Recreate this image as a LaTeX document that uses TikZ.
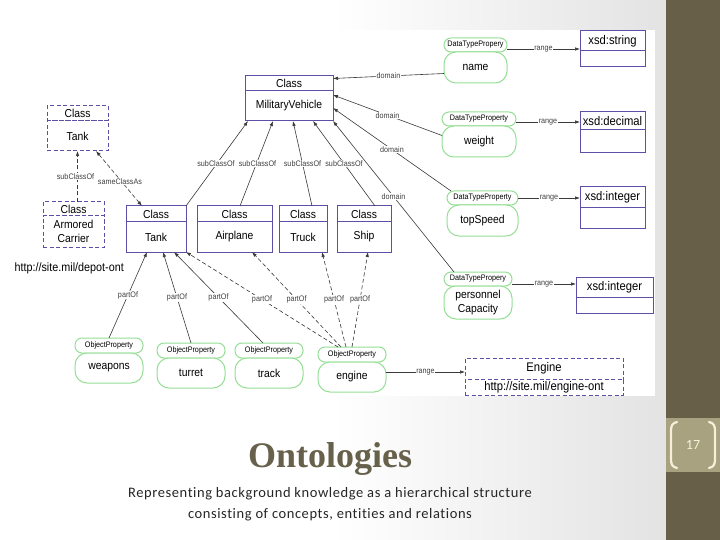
\documentclass[tikz,border=0pt]{standalone}
\usepackage{fontspec}
\usetikzlibrary{positioning,arrows.meta}
\newfontfamily\diagfont[FakeStretch=0.9]{Liberation Sans}
\newfontfamily\slidefont[Ligatures=NoCommon]{Carlito}
\newfontfamily\spacedfont[Ligatures=NoCommon, LetterSpace=4]{Carlito}
\newfontfamily\headfont{Liberation Serif}
\definecolor{classblue}{HTML}{5B50A5}
\definecolor{propgreen}{HTML}{96DE96}
\definecolor{linegray}{HTML}{3A3A3A}
\definecolor{labelgray}{HTML}{404040}
\definecolor{sidebar}{HTML}{675F47}
\definecolor{sidebox}{HTML}{A8A281}
\definecolor{cream}{HTML}{F4F1D8}
\definecolor{titlecol}{HTML}{67614C}
\definecolor{subgray}{HTML}{262626}
\begin{document}
\begin{tikzpicture}[x=1pt,y=-1pt,
        >={Latex[length=5pt,width=3.5pt]},
        classhead/.style={draw=classblue, line width=1pt, fill=white, inner sep=0pt, outer sep=0pt,
            minimum height=15pt, font=\diagfont\fontsize{11.5}{12}\selectfont},
        classbody/.style={classhead, minimum height=30pt, align=center, font=\diagfont\fontsize{11.5}{14}\selectfont},
        farclass/.style={dash pattern=on 4pt off 2.5pt},
        xsdfont/.style={font=\diagfont\fontsize{12.5}{13}\selectfont},
        prophead/.style={draw=propgreen, line width=1pt, fill=white, rounded corners=7pt, inner sep=0pt, outer sep=0pt,
            minimum height=14pt, font=\diagfont\fontsize{8}{9}\selectfont},
        propbody/.style={prophead, rounded corners=12pt, minimum height=30pt, align=center,
            font=\diagfont\fontsize{11.5}{14}\selectfont},
        link/.style={draw=linegray, line width=0.6pt, ->},
        dashlink/.style={link, dash pattern=on 4pt off 2.5pt},
        lbl/.style={fill=white, inner sep=0.6pt, text=labelgray, font=\diagfont\fontsize{8}{9}\selectfont}]
        \useasboundingbox (0,0) rectangle (720,540);

        % Slide background
        \shade[left color=white, right color=black!11, middle color=white] (0,0) rectangle (666,540);
        \fill[white] (0,30) rectangle (655,396);
        \fill[sidebar] (666,0) rectangle (720,540);
        \fill[sidebox] (666,418) rectangle (720,472);
        \draw[cream, line width=2.2pt, line cap=round] (677,422) .. controls (672,423) and (671,426) .. (671,431)
            -- (671,459) .. controls (671,464) and (672,467) .. (677,468);
        \draw[cream, line width=2.2pt, line cap=round] (709,422) .. controls (714,423) and (715,426) .. (715,431)
            -- (715,459) .. controls (715,464) and (714,467) .. (709,468);
        \node[text=cream, font=\slidefont\fontsize{14}{14}\selectfont] (pagenum) at (693,445) {17};

        % Title and subtitle
        \node[anchor=base, text=titlecol, font=\headfont\bfseries\fontsize{36}{38}\selectfont] (title) at (330,467) {Ontologies};
        \node[anchor=base, text=subgray, font=\spacedfont\fontsize{14.5}{16}\selectfont] (subA) at (330,497)
            {Representing background knowledge as a hierarchical structure};
        \node[anchor=base, text=subgray, font=\spacedfont\fontsize{14.5}{16}\selectfont] (subB) at (330,518)
            {consisting of concepts, entities and relations};

        % Top class
        \node[classhead, minimum width=88, anchor=north west] (mvH) at (245,76) {Class};
        \node[classbody, minimum width=88, below=0pt of mvH] (mv) {MilitaryVehicle};

        % Classes of the other ontology
        \node[classhead, farclass, minimum width=61, anchor=north west] (tdH) at (47,106) {Class};
        \node[classbody, farclass, minimum width=61, below=0pt of tdH] (tdB) {Tank};
        \node[classhead, farclass, minimum width=61, minimum height=14, anchor=north west] (acH) at (43,202) {Class};
        \node[classbody, farclass, minimum width=61, minimum height=31, below=0pt of acH] (acB) {Armored\\Carrier};
        \node[anchor=west, font=\diagfont\fontsize{12}{13}\selectfont] (depot) at (11,268) {http://site.mil/depot-ont};

        % Subclasses
        \foreach \nm/\txt/\x/\w in {tank/Tank/126/60, air/Airplane/197/75, truck/Truck/279/48, ship/Ship/337/54} {
            \node[classhead, minimum width=\w, minimum height=16, anchor=north west] (\nm H) at (\x,206) {Class};
            \node[classbody, minimum width=\w, below=0pt of \nm H] (\nm) {\txt};
        }

        % Datatype properties
        \foreach \nm/\hd/\txt/\x/\y/\w/\h in {name/DataTypePropery/name/444/38/63/31,
                wt/DataTypeProperty/weight/442/112/74/31, ts/DataTypeProperty/topSpeed/447/191/71/31,
                pc/DataTypePropery/{personnel\\Capacity}/444/272/68/33} {
            \node[prophead, minimum width=\w, anchor=north west] (\nm H) at (\x,\y) {\hd};
            \node[propbody, minimum width=\w, minimum height=\h, below=0pt of \nm H] (\nm) {\txt};
        }

        % Object properties
        \foreach \nm/\txt/\x/\y in {wp/weapons/75/338, tu/turret/157/343, tk/track/235/343, en/engine/318/347} {
            \node[prophead, minimum width=68, minimum height=15, anchor=north west] (\nm H) at (\x,\y) {ObjectProperty};
            \node[propbody, minimum width=68, below=0pt of \nm H] (\nm) {\txt};
        }

        % Datatypes
        \foreach \nm/\txt/\x/\y/\w/\hh/\bh in {str/xsd:string/580/31/65/20/16, dec/xsd:decimal/580/112/65/18/23,
                int/xsd:integer/580/187/65/21/21, intb/xsd:integer/576/277/77/20/16} {
            \node[classhead, xsdfont, minimum width=\w, minimum height=\hh, anchor=north west] (\nm H) at (\x,\y) {\txt};
            \node[classbody, minimum width=\w, minimum height=\bh, below=0pt of \nm H] (\nm) {};
        }

        % Engine ontology
        \node[classhead, farclass, xsdfont, minimum width=158, minimum height=21, anchor=north west] (engH) at (465,358) {Engine};
        \node[classbody, farclass, xsdfont, minimum width=158, minimum height=16, below=0pt of engH] (engB) {http://site.mil/engine-ont};

        % subClassOf
        \draw[link] (tankH.north east) -- ([xshift=3pt]mv.south west) node[lbl, midway, xshift=-1pt] {subClassOf};
        \draw[link] ([xshift=43pt]airH.north west) -- ([xshift=28pt]mv.south west) node[lbl, midway, xshift=1pt] {subClassOf};
        \draw[link] ([xshift=33pt]truckH.north west) -- ([xshift=48pt]mv.south west) node[lbl, midway] {subClassOf};
        \draw[link] ([xshift=38pt]shipH.north west) -- ([xshift=68pt]mv.south west) node[lbl, midway] {subClassOf};

        % Links to the other ontology
        \draw[dashlink] (tdB.south |- acH.north) -- (tdB.south) node[lbl, midway, xshift=-2pt] {subClassOf};
        \draw[dashlink, <->] ([xshift=-12pt]tdB.south east) -- ([xshift=16pt]tankH.north west)
            node[lbl, midway, yshift=-3pt, xshift=1pt] {sameClassAs};

        % domain
        \draw[link] ([yshift=-6pt]name.west) -- ([yshift=5pt]mvH.east) node[lbl, midway] {domain};
        \draw[link] ([yshift=6pt]wt.west) -- ([yshift=11pt]mv.east) node[lbl, midway] {domain};
        \draw[link] ([xshift=4pt]tsH.north west) -- ([yshift=-2pt]mv.east) node[lbl, midway] {domain};
        \draw[link] ([xshift=10pt]pcH.north west) -- (mv.south east) node[lbl, midway] {domain};

        % range
        \draw[link] ([yshift=-4pt]nameH.east) -- ([yshift=-4pt]nameH.east -| strH.west) node[lbl, midway] {range};
        \draw[link] ([yshift=-3pt]wtH.east) -- ([yshift=-3pt]wtH.east -| decH.west) node[lbl, midway] {range};
        \draw[link] (tsH.east) -- (tsH.east -| intH.west) node[lbl, midway] {range};
        \draw[link] ([yshift=-5pt]pcH.east) -- ([yshift=-5pt]pcH.east -| intbH.west) node[lbl, midway] {range};
        \draw[link] ([yshift=5pt]en.east) -- ([yshift=5pt]en.east -| engH.west) node[lbl, midway] {range};

        % partOf
        \draw[link] (wpH.north) -- ([xshift=21pt]tank.south west) node[lbl, midway] {partOf};
        \draw[link] (tuH.north) -- ([xshift=37pt]tank.south west) node[lbl, midway] {partOf};
        \draw[link] ([xshift=-6pt]tkH.north) -- ([xshift=48pt]tank.south west) node[lbl, midway] {partOf};
        \draw[dashlink] ([xshift=-14pt]enH.north) -- (tank.south east) node[lbl, midway] {partOf};
        \draw[dashlink] ([xshift=-11pt]enH.north) -- ([xshift=55pt]air.south west) node[lbl, midway] {partOf};
        \draw[dashlink] ([xshift=-6pt]enH.north) -- ([xshift=43pt]truck.south west) node[lbl, midway] {partOf};
        \draw[dashlink] (enH.north) -- ([xshift=31pt]ship.south west) node[lbl, midway] {partOf};
    \end{tikzpicture}
\end{document}
